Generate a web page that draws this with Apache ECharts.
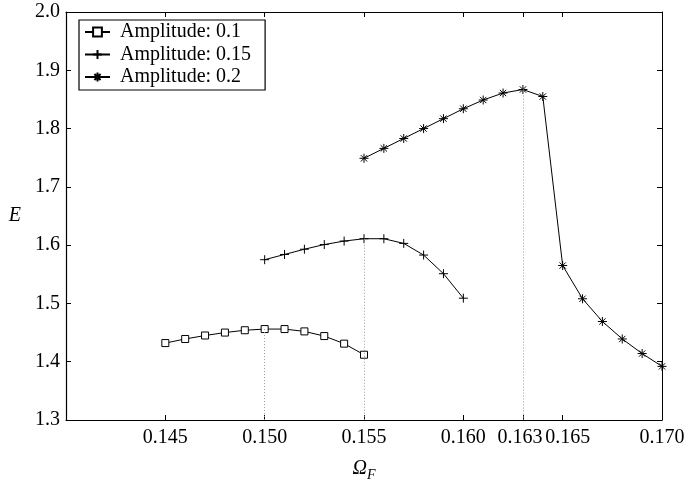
<!DOCTYPE html>
<html>
<head>
<meta charset="utf-8">
<script src="https://cdn.jsdelivr.net/npm/echarts@6/dist/echarts.min.js"></script>
<style>
	html, body { margin: 0; padding: 0; background: #fff; }
	#chart { width: 688px; height: 488px; }
</style>
</head>
<body>
<div id="chart"></div>
<script>
// forcing frequency values for each amplitude
var freq01 = [0.145, 0.146, 0.147, 0.148, 0.149, 0.150, 0.151, 0.152, 0.153, 0.154, 0.155];
var energy01 = [1.432, 1.439, 1.445, 1.450, 1.454, 1.456, 1.456, 1.452, 1.444, 1.431, 1.412];

var freq015 = [0.150, 0.151, 0.152, 0.153, 0.154, 0.155, 0.156, 0.157, 0.158, 0.159, 0.160];
var energy015 = [1.575, 1.584, 1.593, 1.601, 1.607, 1.611, 1.611, 1.603, 1.583, 1.551, 1.509];

var freq02 = [0.155, 0.156, 0.157, 0.158, 0.159, 0.160, 0.161, 0.162, 0.163, 0.164, 0.165, 0.166, 0.167, 0.168, 0.169, 0.170];
var energy02 = [1.749, 1.766, 1.783, 1.800, 1.817, 1.834, 1.849, 1.861, 1.867, 1.855, 1.565, 1.508, 1.469, 1.439, 1.414, 1.392];

var seriesNames = ['Amplitude: 0.1', 'Amplitude: 0.15', 'Amplitude: 0.2'];

// peaks marked with dotted drop lines
var peakFreq = [0.150, 0.155, 0.163];
var peakEnergy = [1.456, 1.611, 1.867];

var xTicks = [0.145, 0.150, 0.155, 0.160, 0.163, 0.165, 0.170];
var yTicks = [1.3, 1.4, 1.5, 1.6, 1.7, 1.8, 1.9, 2.0];

var font = 'Liberation Serif';

function pairs(xs, ys) {
	return xs.map(function (x, i) { return [x, ys[i]]; });
}

function dropLine(i) {
	return [{coord: [peakFreq[i], peakEnergy[i]]}, {coord: [peakFreq[i], yTicks[0]]}];
}

function makeSeries(name, data, symbol, size, fill, peakIdx) {
	return {
		name: name,
		type: 'line',
		data: data,
		symbol: symbol,
		symbolSize: size,
		showAllSymbol: true,
		lineStyle: {color: '#000', width: 1},
		itemStyle: {color: fill, borderColor: '#000', borderWidth: 1},
		emphasis: {disabled: true},
		markLine: {
			silent: true,
			symbol: 'none',
			label: {show: false},
			lineStyle: {color: '#999', type: [1, 2], width: 1},
			data: [dropLine(peakIdx)]
		},
		z: 3
	};
}

var plusPath = 'path://M5,0L5,10M0,5L10,5';
var starPath = 'path://M5,0L5,10M0,5L10,5M1.5,1.5L8.5,8.5M8.5,1.5L1.5,8.5';

// the two crowded labels are nudged apart a little, like the original
function xLabel(v) {
	var s = v.toFixed(3);
	if (s === '0.163') return '{l|' + s + '}';
	if (s === '0.165') return '{r|' + s + '}';
	return s;
}

var myChart = echarts.init(document.getElementById('chart'));
var option = {
	backgroundColor: '#fff',
	animation: false,
	textStyle: {fontFamily: font, color: '#000'},
	grid: {
		left: 66,
		right: 26,
		top: 12,
		bottom: 68,
		outerBoundsMode: 'none'
	},
	legend: {
		orient: 'vertical',
		left: 79,
		top: 20,
		padding: [2, 14, 3, 5],
		itemGap: 2.5,
		itemWidth: 25,
		itemHeight: 11,
		backgroundColor: '#fff',
		borderColor: '#000',
		borderWidth: 1.2,
		borderRadius: 0,
		textStyle: {fontFamily: font, fontSize: 20, color: '#000', padding: [0, 0, 0, 5]},
		data: seriesNames
	},
	xAxis: [
		{
			type: 'value',
			min: 0.14,
			max: 0.17,
			name: '{a|Ω}{b|F}',
			nameLocation: 'middle',
			nameGap: 36,
			nameTextStyle: {
				rich: {
					a: {fontFamily: font, fontStyle: 'italic', fontSize: 20, color: '#000'},
					b: {fontFamily: font, fontStyle: 'italic', fontSize: 14, color: '#000', padding: [12, 0, 0, 0]}
				}
			},
			axisLine: {lineStyle: {color: '#000', width: 1.2}},
			axisTick: {inside: true, length: 5, customValues: xTicks, lineStyle: {color: '#000'}},
			axisLabel: {
				customValues: xTicks,
				margin: 8,
				fontSize: 20,
				color: '#000',
				fontFamily: font,
				formatter: xLabel,
				rich: {
					l: {fontFamily: font, fontSize: 20, color: '#000', padding: [0, 6, 0, 0]},
					r: {fontFamily: font, fontSize: 20, color: '#000', padding: [0, 0, 0, 10]}
				}
			},
			splitLine: {show: false}
		},
		{
			type: 'value',
			position: 'top',
			min: 0.14,
			max: 0.17,
			axisLine: {lineStyle: {color: '#000', width: 1}},
			axisTick: {inside: true, length: 5, customValues: xTicks, lineStyle: {color: '#000'}},
			axisLabel: {show: false},
			splitLine: {show: false}
		}
	],
	yAxis: [
		{
			type: 'value',
			min: 1.3,
			max: 2.0,
			interval: 0.1,
			name: 'E',
			nameLocation: 'middle',
			nameRotate: 0,
			nameGap: 45,
			nameTextStyle: {fontFamily: font, fontStyle: 'italic', fontSize: 20, color: '#000'},
			axisLine: {lineStyle: {color: '#000', width: 1.2}},
			axisTick: {inside: true, length: 5, lineStyle: {color: '#000'}},
			axisLabel: {
				margin: 6,
				fontSize: 20,
				color: '#000',
				fontFamily: font,
				formatter: function (v) { return v.toFixed(1); }
			},
			splitLine: {show: false}
		},
		{
			type: 'value',
			position: 'right',
			min: 1.3,
			max: 2.0,
			interval: 0.1,
			axisLine: {show: true, lineStyle: {color: '#000', width: 1}},
			axisTick: {show: true, inside: true, length: 5, lineStyle: {color: '#000'}},
			axisLabel: {show: false},
			splitLine: {show: false}
		}
	],
	series: [
		makeSeries(seriesNames[0], pairs(freq01, energy01), 'rect', 7, '#fff', 0),
		makeSeries(seriesNames[1], pairs(freq015, energy015), plusPath, 9, '#000', 1),
		makeSeries(seriesNames[2], pairs(freq02, energy02), starPath, 9, '#000', 2)
	]
};
myChart.setOption(option);
</script>
</body>
</html>
